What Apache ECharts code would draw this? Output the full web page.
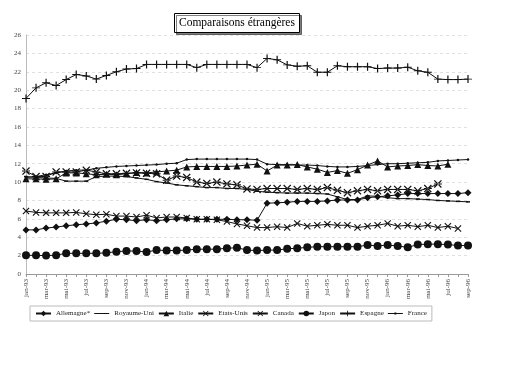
<!DOCTYPE html>
<html><head><meta charset="utf-8">
<script src="https://cdn.jsdelivr.net/npm/echarts@6/dist/echarts.min.js"></script>
<style>html,body{margin:0;padding:0;background:#fff}#c{width:508px;height:367px}</style>
</head><body><div id="c"></div>
<script>
const mois = ['jan','fév','mar','avr','mai','jun','jul','aoû','sep','oct','nov','déc'];
const annees = ['93','94','95','96'];
const categories = [];
for (const a of annees) for (const m of mois) categories.push(m + '-' + a);
categories.length = 45; // jan-93 .. sep-96

const allemagne = [4.8,4.8,5.0,5.1,5.25,5.35,5.45,5.55,5.75,5.95,5.9,5.8,5.9,5.8,5.9,6.0,6.0,5.95,5.95,5.95,5.95,5.9,5.9,5.85,7.7,7.75,7.8,7.9,7.9,7.9,7.95,8.05,8.05,8.05,8.3,8.4,8.5,8.6,8.75,8.75,8.75,8.75,8.75,8.75,8.85];
const royaumeUni = [10.6,10.5,10.45,10.4,10.1,10.1,10.1,10.6,10.65,10.65,10.6,10.45,10.3,10.05,9.9,9.7,9.6,9.5,9.4,9.4,9.3,9.3,9.2,9.0,8.9,8.85,8.8,8.8,8.8,8.75,8.7,8.4,8.1,8.1,8.5,8.45,8.3,8.2,8.2,8.15,8.1,8.0,7.95,7.9,7.85];
const italie = [10.35,10.35,10.3,10.35,11.0,11.0,10.9,10.8,10.85,10.8,10.9,11.05,11.0,11.1,11.2,11.3,11.65,11.7,11.7,11.7,11.7,11.75,11.85,11.95,11.2,11.85,11.85,11.9,11.65,11.4,11.05,11.25,10.95,11.35,11.85,12.3,11.65,11.75,11.8,11.9,11.8,11.75,11.95,null,null];
const etatsUnis = [6.85,6.7,6.65,6.65,6.65,6.7,6.55,6.45,6.5,6.3,6.3,6.2,6.4,6.1,6.2,6.2,6.1,5.95,5.95,5.9,5.7,5.45,5.25,5.05,5.05,5.15,5.05,5.5,5.2,5.3,5.4,5.3,5.3,5.05,5.2,5.3,5.5,5.2,5.3,5.15,5.3,5.05,5.2,4.95,null];
const canada = [11.2,10.6,10.6,11.1,11.1,11.1,11.3,11.1,10.9,10.9,10.95,11.0,10.95,10.9,10.2,10.65,10.5,10.0,9.85,10.0,9.8,9.7,9.25,9.2,9.3,9.3,9.3,9.2,9.3,9.2,9.4,9.1,8.85,9.05,9.2,9.05,9.2,9.2,9.2,9.05,9.3,9.8,null,null,null];
const japon = [2.03,2.03,2.0,2.05,2.25,2.25,2.25,2.25,2.3,2.43,2.5,2.5,2.39,2.6,2.55,2.55,2.6,2.7,2.7,2.7,2.8,2.86,2.6,2.55,2.6,2.6,2.75,2.8,2.9,2.97,2.97,2.97,2.97,2.97,3.15,3.05,3.15,3.05,2.9,3.2,3.25,3.25,3.2,3.1,3.1];
const espagne = [19.1,20.25,20.8,20.5,21.15,21.7,21.55,21.2,21.6,22.0,22.3,22.35,22.8,22.8,22.8,22.8,22.8,22.45,22.8,22.8,22.8,22.8,22.8,22.45,23.45,23.3,22.75,22.6,22.65,21.95,21.95,22.65,22.55,22.55,22.55,22.35,22.4,22.4,22.5,22.1,21.95,21.2,21.15,21.15,21.2];
const france = [10.5,10.6,10.8,11.0,11.2,11.3,11.3,11.5,11.6,11.7,11.75,11.8,11.85,11.9,12.0,12.05,12.45,12.5,12.5,12.5,12.5,12.5,12.5,12.45,11.95,11.9,11.9,11.85,11.85,11.8,11.7,11.65,11.65,11.7,11.8,11.9,12.0,12.0,12.05,12.1,12.15,12.3,12.35,12.4,12.45];

const yTicks = [0,2,4,6,8,10,12,14,16,18,20,22,24,26];

const SYM_X = 'path://M0,1.1 L1.1,0 L5,3.9 L8.9,0 L10,1.1 L6.1,5 L10,8.9 L8.9,10 L5,6.1 L1.1,10 L0,8.9 L3.9,5 Z';
const SYM_AST = 'path://M0,1.1 L1.1,0 L5,3.9 L8.9,0 L10,1.1 L6.1,5 L10,8.9 L8.9,10 L5,6.1 L1.1,10 L0,8.9 L3.9,5 Z M0,4.4 L0,5.6 L10,5.6 L10,4.4 Z';
const SYM_PLUS = 'path://M4.4,0 L5.6,0 L5.6,4.4 L9,4.4 L9,5.6 L5.6,5.6 L5.6,10 L4.4,10 L4.4,5.6 L1,5.6 L1,4.4 L4.4,4.4 Z';
const ICON_LINE = 'path://M0,0 M0,3 L15,3 L15,4 L0,4 Z M15,7';
const ICON_LINE_DOT = 'path://M0,0 M0,3 L15,3 L15,4 L0,4 Z M6.5,2.5 L8.5,2.5 L8.5,4.5 L6.5,4.5 Z M15,7';

const FONT = 'Liberation Serif';
const INK = '#111';

function mk(name, data, symbol, size) {
  return {
    name, type: 'line', data, symbol, symbolSize: size,
    showSymbol: true, showAllSymbol: true, connectNulls: false,
    lineStyle: { color: INK, width: 1 },
    itemStyle: { color: INK },
    emphasis: { disabled: true },
    z: 3
  };
}

const chart = echarts.init(document.getElementById('c'), null, { renderer: 'canvas' });
chart.setOption({
  animation: false,
  backgroundColor: '#fff',
  title: {
    text: 'Comparaisons étrangères',
    left: 174, top: 13,
    padding: [4, 5, 4, 5],
    borderColor: '#000', borderWidth: 1,
    backgroundColor: '#fff',
    shadowColor: 'rgba(0,0,0,0.5)', shadowOffsetX: 2, shadowOffsetY: 2, shadowBlur: 0,
    textStyle: { fontFamily: FONT, fontSize: 11.5, fontWeight: 'normal', color: '#000' }
  },
  legend: {
    left: 30, top: 306,
    padding: [4, 5, 4, 5],
    itemWidth: 15, itemHeight: 7, itemGap: 4,
    borderColor: '#bbb', borderWidth: 1,
    textStyle: { fontFamily: FONT, fontSize: 7, color: '#222' },
    data: ['Allemagne*', { name: 'Royaume-Uni', icon: ICON_LINE }, 'Italie', 'Etats-Unis', 'Canada', 'Japon', 'Espagne', { name: 'France', icon: ICON_LINE_DOT }]
  },
  grid: { left: 26, right: 40, top: 35, bottom: 93, containLabel: false },
  xAxis: {
    type: 'category', data: categories, boundaryGap: false,
    axisLine: { lineStyle: { color: '#999', width: 1 } },
    axisTick: { show: true, interval: 0, length: 3, lineStyle: { color: '#999' } },
    axisLabel: { interval: 1, rotate: 90, margin: 5, fontFamily: FONT, fontSize: 7, color: '#444' },
    splitLine: { show: false }
  },
  yAxis: {
    type: 'value', min: 0, max: 26, interval: 2,
    axisLine: { show: true, lineStyle: { color: '#bbb', width: 1 } },
    axisTick: { show: false },
    axisLabel: { margin: 5, fontFamily: FONT, fontSize: 7, color: '#444',
      formatter: v => yTicks.includes(v) ? String(v) : '' },
    splitLine: { show: true, lineStyle: { color: '#e0e0e0', type: [3, 3], width: 1 } }
  },
  series: [
    mk('Allemagne*', allemagne, 'diamond', 7),
    mk('Royaume-Uni', royaumeUni, 'rect', [4, 1.5]),
    mk('Italie', italie, 'triangle', 7),
    mk('Etats-Unis', etatsUnis, SYM_X, 7),
    mk('Canada', canada, SYM_AST, 8),
    mk('Japon', japon, 'circle', 8),
    mk('Espagne', espagne, SYM_PLUS, 8),
    mk('France', france, 'circle', 2.5)
  ]
});
</script></body></html>
